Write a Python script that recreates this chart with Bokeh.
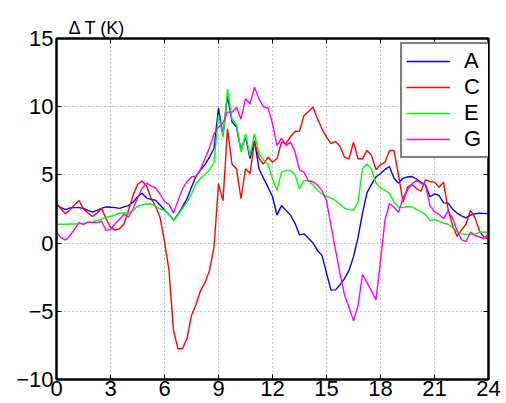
from bokeh.plotting import figure
from bokeh.models import Range1d, LinearAxis, FixedTicker, Legend, LegendItem, CustomJSTickFormatter
from bokeh.embed import file_html
from bokeh.resources import INLINE

# time of day (hours), 15-minute samples
hours = [i / 4 for i in range(97)]

series_A = [
    2.8, 2.6, 2.45, 2.58, 2.6, 2.6, 2.55, 2.4,
    2.27, 2.4, 2.55, 2.65, 2.63, 2.6, 2.55, 2.65,
    2.75, 3.0, 3.4, 3.66, 3.3, 3.2, 3.15, 2.8,
    2.45, 2.1, 1.68, 2.1, 2.65, 3.25, 4.1, 4.9,
    5.35, 5.75, 6.3, 6.95, 9.9, 7.9, 10.8, 8.9,
    8.5, 6.8, 7.8, 6.2, 7.5, 5.45, 4.75, 4.1,
    3.4, 2.05, 2.75, 2.4, 2.05, 1.45, 0.6, 0.68,
    0.35, 0.0, -0.54, -0.9, -2.2, -3.45, -3.43, -3.05,
    -2.6, -2.0, -1.0, 0.4, 2.2, 3.7, 4.3, 4.85,
    5.1, 5.4, 5.6, 4.75, 4.4, 4.75, 4.85, 4.88,
    4.7, 4.45, 4.25, 3.4, 3.61, 3.49, 2.95, 2.93,
    2.5, 2.2, 2.0, 1.85, 2.05, 2.15, 2.2, 2.18,
    2.15,
]

series_C = [
    2.93, 2.5, 2.15, 2.45, 2.8, 3.12, 2.5, 2.2,
    1.95, 2.2, 2.55, 1.8, 1.15, 0.95, 1.05, 1.4,
    2.4, 3.5, 4.3, 4.55, 4.2, 3.3, 2.7, 1.9,
    0.1, -2.0, -6.4, -7.75, -7.75, -7.0, -5.3, -4.5,
    -3.5, -2.9, -2.0, -0.3, 4.35, 3.1, 8.38, 5.8,
    5.45, 3.25, 5.45, 5.1, 7.4, 6.2, 5.8, 6.3,
    5.93, 6.18, 7.4, 7.3, 7.8, 8.18, 8.2, 9.36,
    9.65, 9.97, 9.1, 8.38, 7.77, 7.3, 7.45, 7.1,
    6.3, 6.18, 7.4, 6.18, 6.18, 6.8, 6.42, 5.38,
    5.76, 5.93, 6.79, 6.79, 5.0, 3.0, 4.1, 4.3,
    4.0, 3.8, 4.64, 4.5, 4.47, 4.1, 4.47, 2.5,
    1.3, 0.5, 0.95, 1.4, 2.39, 1.85, 0.9, 0.43,
    0.31,
]

series_E = [
    1.38, 1.38, 1.38, 1.4, 1.4, 1.42, 1.45, 1.5,
    1.55, 1.65, 1.75, 1.9, 1.95, 2.05, 2.2, 2.22,
    2.15, 2.4, 2.7, 2.8, 2.85, 2.88, 2.7, 2.5,
    2.4, 2.1, 1.68, 2.05, 2.55, 3.0, 3.6, 4.35,
    4.75, 5.05, 5.35, 5.9, 9.4, 7.77, 11.3, 9.1,
    8.7, 6.67, 8.0, 6.42, 8.0, 6.55, 6.06, 5.8,
    4.71, 3.86, 5.2, 5.32, 5.32, 5.0, 3.98, 4.59,
    4.59, 4.25, 3.9, 3.6, 3.4, 3.3, 3.1, 2.85,
    2.55, 2.45, 2.4, 3.0, 5.45, 5.8, 5.4, 4.4,
    4.05, 3.86, 3.65, 3.0, 2.65, 2.6, 2.68, 2.65,
    2.45, 2.3, 2.1, 1.65, 1.7, 1.61, 1.46, 1.38,
    1.15, 0.85, 0.68, 0.63, 0.63, 0.65, 0.8, 0.8,
    0.8,
]

series_G = [
    0.8, 0.4, 0.22, 0.55, 1.0, 1.5, 1.35, 1.55,
    1.5, 1.5, 1.6, 0.93, 1.0, 1.4, 1.75, 2.1,
    1.9, 2.5, 3.3, 4.0, 4.4, 4.2, 4.05, 3.6,
    3.05, 2.85, 2.2, 3.1, 3.98, 4.5, 4.85, 4.9,
    5.4, 6.2, 7.0, 8.0, 8.5, 8.8, 9.6, 9.6,
    9.96, 9.1, 10.58, 10.2, 11.43, 10.58, 9.96, 9.92,
    8.75, 7.15, 7.7, 7.15, 7.4, 6.7, 5.35, 5.2,
    4.55, 4.5, 4.25, 3.85, 3.1, 1.3, -0.5, -2.2,
    -3.8, -4.7, -5.7, -4.6, -2.3, -2.9, -3.5, -4.16,
    -1.3, 1.7, 2.9, 2.63, 2.25, 3.3, 3.9, 4.35,
    4.6, 4.4, 4.25, 2.75, 2.3, 2.1, 1.8, 2.35,
    1.85, 0.92, 0.25, 0.1, 0.8, 0.56, 0.45, 0.32,
    0.68,
]

series_names = ["A", "C", "E", "G"]
series_colors = ["#0000ff", "#ff0000", "#00ff00", "#ff00ff"]
x_ticks = [0, 3, 6, 9, 12, 15, 18, 21, 24]
y_ticks = [-10, -5, 0, 5, 10, 15]
y_label = "\u0394 T (K)"

FONT = "Liberation Sans"

p = figure(width=506, height=403, x_range=Range1d(0, 24), y_range=Range1d(-10, 15),
           output_backend="svg", toolbar_location=None, title=y_label,
           min_border_left=56, min_border_right=18, min_border_top=38, min_border_bottom=24)
p.background_fill_color = "white"
p.border_fill_color = "white"
p.outline_line_color = "black"
p.outline_line_width = 2

p.title.align = "left"
p.title.offset = 12
p.title.standoff = 1
p.title.text_font = FONT
p.title.text_font_size = "18px"
p.title.text_font_style = "normal"
p.title.text_color = "black"

xt = FixedTicker(ticks=x_ticks)
yt = FixedTicker(ticks=y_ticks)

for ax, tk in ((p.xaxis[0], xt), (p.yaxis[0], yt)):
    ax.ticker = tk
    ax.major_label_text_font = FONT
    ax.major_label_text_font_size = "22px"
    ax.major_label_text_color = "black"
    ax.major_tick_in = 5
    ax.major_tick_out = 0
    ax.minor_tick_line_color = None
    ax.axis_line_color = "black"
    ax.axis_line_width = 2
    ax.major_tick_line_color = "black"
p.xaxis[0].major_label_standoff = 1
p.yaxis[0].major_label_standoff = 3
p.yaxis[0].major_label_overrides = {-10: "\u221210", -5: "\u22125"}

p.xgrid.ticker = xt
p.ygrid.ticker = yt
for g in (p.xgrid, p.ygrid):
    g.grid_line_color = "#8a8a8a"
    g.grid_line_dash = "1 3"
    g.grid_line_width = 1

blank = CustomJSTickFormatter(code="return ''")
top_ax = LinearAxis(ticker=xt, formatter=blank, major_tick_in=5, major_tick_out=0,
                    minor_tick_line_color=None, axis_line_width=2, major_label_standoff=0,
                    major_label_text_font_size="1px")
right_ax = LinearAxis(ticker=yt, formatter=blank, major_tick_in=5, major_tick_out=0,
                      minor_tick_line_color=None, axis_line_width=2, major_label_standoff=0,
                      major_label_text_font_size="1px")
p.add_layout(top_ax, "above")
p.add_layout(right_ax, "right")

renderers = []
for ys, c in zip([series_A, series_C, series_E, series_G], series_colors):
    r = p.line(hours, ys, line_color=c, line_width=1.4)
    renderers.append(r)

# legend kept inside the plot frame (annotations in the frame are clipped to it)
legend = Legend(items=[LegendItem(label=n, renderers=[r]) for n, r in zip(series_names, renderers)],
                location=(344, 221))
legend.border_line_color = "black"
legend.border_line_width = 2
legend.background_fill_color = "white"
legend.background_fill_alpha = 1
legend.label_text_font = FONT
legend.label_text_font_size = "22px"
legend.label_text_color = "black"
legend.glyph_width = 44
legend.glyph_height = 20
legend.label_standoff = 14
legend.label_width = 22
legend.padding = 4
legend.spacing = 0
legend.margin = 0
p.add_layout(legend)

open("out.html", "w").write(file_html(p, INLINE))
